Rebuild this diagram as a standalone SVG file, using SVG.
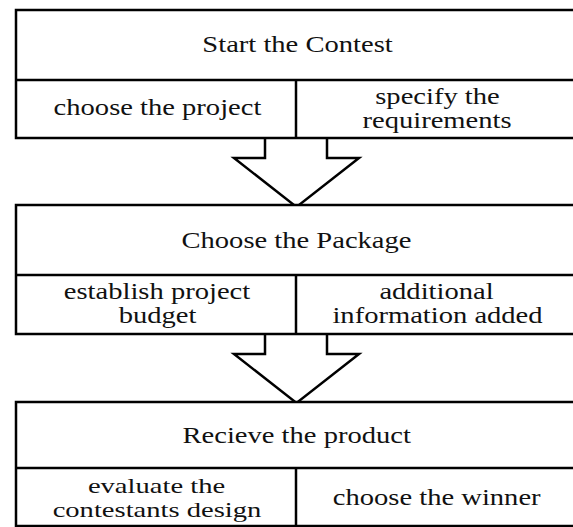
<svg xmlns="http://www.w3.org/2000/svg" width="573" height="527" viewBox="0 0 573 527">
<style>
.box{fill:#fff;stroke:#000;stroke-width:2.5}
.ln{fill:none;stroke:#000;stroke-width:2.5}
.arr{fill:#fff;stroke:#000;stroke-width:2.5;stroke-linejoin:miter}
text{font-family:"Liberation Serif","Times New Roman",serif;font-size:22.5px;fill:#111;text-anchor:middle}
.sm{font-size:21.5px}
</style>
<rect width="573" height="527" fill="#fff"/>
<g id="connectors">
<polyline class="arr" points="265,138 265,158 234,158 296.5,207 359,158 327,158 327,138"/>
<polyline class="arr" points="265,334 265,354 234,354 296.5,403 359,354 327,354 327,334"/>
</g>
<g id="node-start">
<rect class="box" x="16" y="10" width="570" height="128"/>
<line class="ln" x1="16" y1="80" x2="580" y2="80"/>
<line class="ln" x1="296" y1="80" x2="296" y2="138"/>
<text transform="translate(297.5,52) scale(1.27,1)">Start the Contest</text>
<text transform="translate(157.5,115) scale(1.27,1)">choose the project</text>
<text transform="translate(437.5,104) scale(1.27,1)">specify the</text>
<text transform="translate(437,128) scale(1.27,1)">requirements</text>
</g>
<g id="node-package">
<rect class="box" x="16" y="205" width="570" height="129"/>
<line class="ln" x1="16" y1="275" x2="580" y2="275"/>
<line class="ln" x1="296" y1="275" x2="296" y2="334"/>
<text transform="translate(296.5,248) scale(1.27,1)">Choose the Package</text>
<text transform="translate(157,299) scale(1.27,1)">establish project</text>
<text transform="translate(157.5,323) scale(1.27,1)">budget</text>
<text transform="translate(436.5,299) scale(1.27,1)">additional</text>
<text transform="translate(437.5,323) scale(1.27,1)">information added</text>
</g>
<g id="node-receive">
<rect class="box" x="16" y="402" width="570" height="124"/>
<line class="ln" x1="16" y1="468" x2="580" y2="468"/>
<line class="ln" x1="296" y1="468" x2="296" y2="526"/>
<text transform="translate(296.7,443) scale(1.27,1)">Recieve the product</text>
<text class="sm" transform="translate(156.5,493) scale(1.33,1)">evaluate the</text>
<text class="sm" transform="translate(157,517) scale(1.33,1)">contestants design</text>
<text transform="translate(436.7,505) scale(1.27,1)">choose the winner</text>
</g>
</svg>
